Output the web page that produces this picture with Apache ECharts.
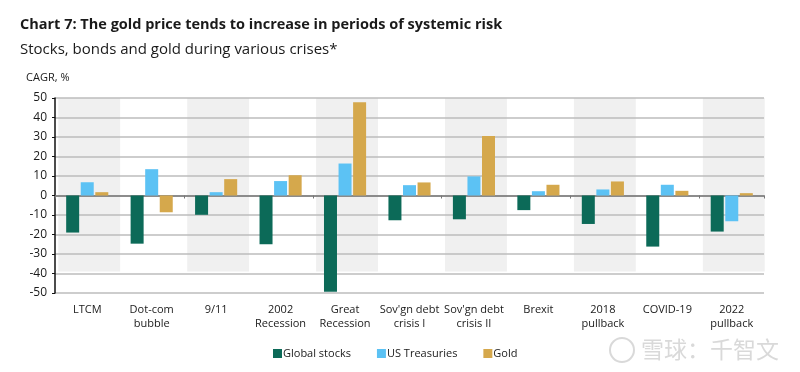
<!DOCTYPE html>
<html><head><meta charset="utf-8">
<script src="https://cdn.jsdelivr.net/npm/echarts@6/dist/echarts.min.js"></script>
<style>html,body{margin:0;padding:0;background:#fff}#c{width:800px;height:372px}</style>
</head><body><div id="c"></div>
<script>
var categories = ['LTCM','Dot-com\nbubble','9/11','2002\nRecession','Great\nRecession',"Sov'gn debt\ncrisis I","Sov'gn debt\ncrisis II",'Brexit','2018\npullback','COVID-19','2022\npullback'];
var globalStocks = [-19.0,-24.7,-9.9,-25.0,-49.3,-12.7,-12.2,-7.5,-14.6,-26.2,-18.5];
var usTreasuries = [6.8,13.5,1.7,7.4,16.4,5.3,9.8,2.2,3.1,5.5,-13.2];
var gold = [1.7,-8.6,8.4,10.4,47.8,6.7,30.5,5.5,7.2,2.4,1.2];
var shadedCategories = [0,2,4,6,8,10];
var yTicks = [-50,-40,-30,-20,-10,0,10,20,30,40,50];

var FONT = "'Open Sans', 'Noto Sans', sans-serif";
var chart = echarts.init(document.getElementById('c'));
chart.setOption({
  animation: false,
  textStyle: {fontFamily: FONT},
  title: {
    text: 'Chart 7: The gold price tends to increase in periods of systemic risk',
    subtext: 'Stocks, bonds and gold during various crises*',
    left: 15, top: 12, itemGap: 10,
    textStyle: {fontFamily: FONT, fontSize: 14.5, fontWeight: 'bold', color: '#1a1a1a'},
    subtextStyle: {fontFamily: FONT, fontSize: 15, color: '#1a1a1a'}
  },
  graphic: [
    {type: 'text', left: 26, top: 72, style: {text: 'CAGR, %', font: '11px ' + FONT, fill: '#1a1a1a'}},
    {type: 'circle', shape: {cx: 622, cy: 350, r: 12}, style: {fill: 'none', stroke: 'rgba(170,170,170,0.45)', lineWidth: 2}},
    {type: 'text', left: 641, top: 338, style: {text: '雪球：千智文', font: '23px "Noto Sans CJK SC"', fill: 'rgba(170,170,170,0.45)'}}
  ],
  legend: {
    data: ['Global stocks','US Treasuries','Gold'],
    top: 343, left: 268, icon: 'rect', itemWidth: 9, itemHeight: 9, itemGap: 26,
    textStyle: {fontFamily: FONT, fontSize: 11, color: '#1a1a1a', padding: [0, 0, 0, -4]}
  },
  grid: {left: 55, right: 36, top: 98, bottom: 79, containLabel: false},
  xAxis: [
    {type: 'category', data: categories, position: 'bottom',
     axisLine: {show: false, onZero: false}, axisTick: {show: false},
     axisLabel: {interval: 0, fontSize: 11, color: '#1a1a1a', lineHeight: 14, margin: 10, fontFamily: FONT}},
    {type: 'category', data: categories, position: 'bottom',
     axisLine: {show: true, onZero: true, lineStyle: {color: '#777', width: 1.5}},
     axisTick: {show: true, length: 3, lineStyle: {color: '#777'}},
     axisLabel: {show: false}}
  ],
  yAxis: {
    type: 'value', min: -50, max: 50, interval: 10,
    axisLine: {show: true, lineStyle: {color: '#111', width: 1.5}},
    axisTick: {show: true, length: 3, lineStyle: {color: '#111'}},
    axisLabel: {fontSize: 12, color: '#1a1a1a', margin: 8, fontFamily: FONT},
    splitLine: {lineStyle: {color: '#bdbdbd', width: 1.5}}
  },
  series: [
    {type: 'custom', z: -1, silent: true, xAxisIndex: 0,
     data: shadedCategories.map(function(i){ return [i, 50, -39]; }),
     renderItem: function(params, api){
       var top = api.coord([api.value(0), api.value(1)]);
       var bot = api.coord([api.value(0), api.value(2)]);
       var w = api.size([1, 0])[0] * 0.96;
       return {type: 'rect', shape: {x: top[0] - w/2 + 2, y: top[1], width: w, height: bot[1] - top[1]},
               style: {fill: '#f0f0f0'}};
     }},
    {name: 'Global stocks', type: 'bar', data: globalStocks, barWidth: 13, barGap: '12%', itemStyle: {color: '#0c6a58'}},
    {name: 'US Treasuries', type: 'bar', data: usTreasuries, barWidth: 13, barGap: '12%', itemStyle: {color: '#5cc2f4'}},
    {name: 'Gold', type: 'bar', data: gold, barWidth: 13, barGap: '12%', itemStyle: {color: '#d5a84c'}}
  ]
});
</script></body></html>
